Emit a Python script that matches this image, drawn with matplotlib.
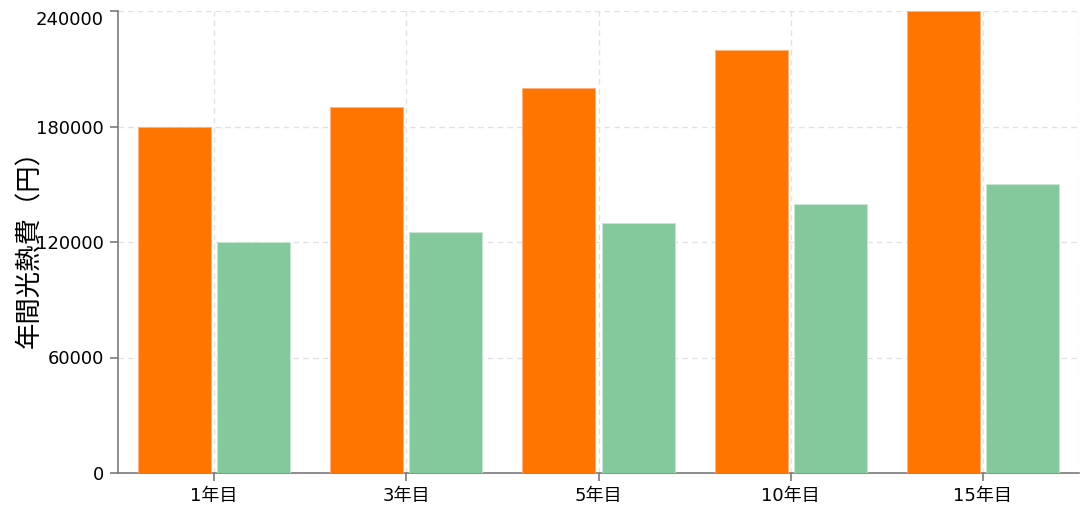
import matplotlib
matplotlib.use("Agg")
import matplotlib.pyplot as plt
import numpy as np

plt.rcParams['font.family'] = ['DejaVu Sans', 'Noto Sans CJK JP']

# data
categories = ["1年目", "3年目", "5年目", "10年目", "15年目"]
orange_vals = [180000, 190000, 200000, 220000, 240000]
green_vals = [120000, 125000, 130000, 140000, 150000]
y_ticks = [0, 60000, 120000, 180000, 240000]

ORANGE = "#FF7500"
GREEN = "#84C99B"
AXIS = "#7a7a7a"
GRID = "#e2e2e6"

fig = plt.figure(figsize=(10.91, 5.15), dpi=100)
ax = fig.add_axes([118 / 1091, 42 / 515, 961 / 1091, 462 / 515])

x = np.arange(len(categories))
w = 0.38
off = 0.206
ax.bar(x - off, orange_vals, width=w, color=ORANGE, edgecolor="#ffb27a",
       linewidth=0.6, zorder=3)
ax.bar(x + off, green_vals, width=w, color=GREEN, edgecolor="#c8e8d2",
       linewidth=0.6, zorder=3)

ax.set_xlim(-0.5, len(categories) - 0.5)
ax.set_ylim(0, 240000)
ax.set_xticks(x)
ax.set_xticklabels(categories)
ax.set_yticks(y_ticks)
ax.set_yticklabels([str(v) for v in y_ticks])
# top label sits inside the figure, hanging below its tick
ax.get_yticklabels()[-1].set_va("top")

# grid: horizontal at ticks, vertical at category centres + right edge
ax.grid(True, which="major", color=GRID, linestyle=(0, (4, 3)), linewidth=1.0,
        zorder=0)
ax.axvline(len(categories) - 0.5, color=GRID, linestyle=(0, (4, 3)),
           linewidth=1.0, zorder=0)

for s in ("top", "right"):
    ax.spines[s].set_visible(False)
for s in ("left", "bottom"):
    ax.spines[s].set_color(AXIS)
    ax.spines[s].set_linewidth(1.2)

ax.tick_params(axis="both", colors=AXIS, length=6, width=1.2, labelsize=13,
               labelcolor="#000000", pad=4)

ax.set_ylabel("年間光熱費（円）", fontsize=19, color="#000000",
              family=['Noto Sans CJK JP', 'DejaVu Sans'])
ax.yaxis.set_label_coords(-0.078, 0.50)

fig.savefig("out.png", dpi=100)
